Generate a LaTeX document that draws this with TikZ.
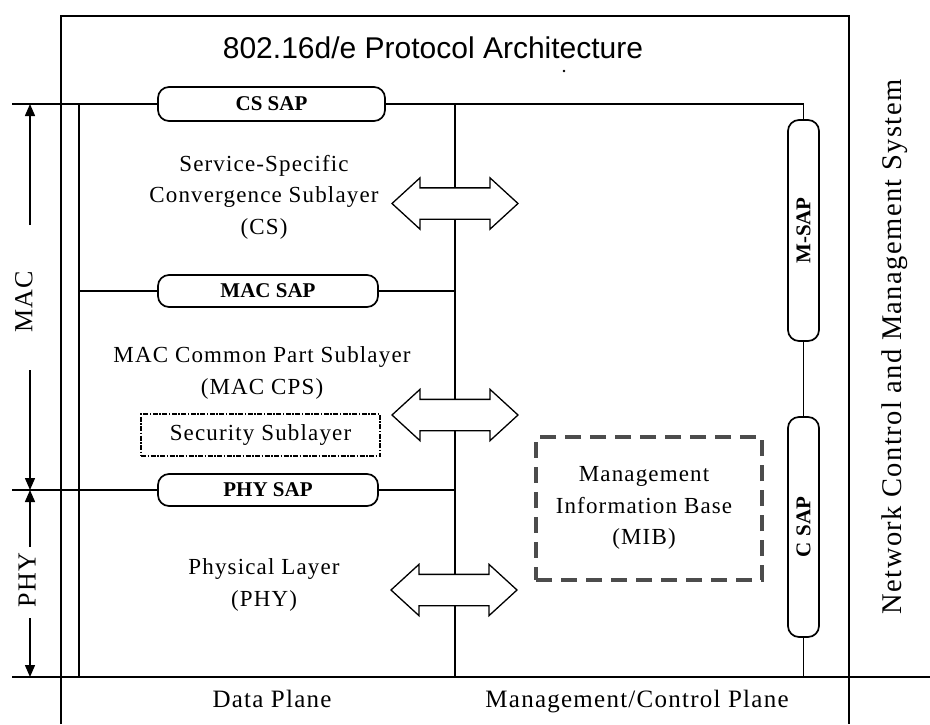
\documentclass[tikz,border=0pt]{standalone}
\usepackage{fontspec}
\setmainfont{Liberation Serif}
\newfontfamily\titlefnt{Liberation Sans}
\newfontfamily\bodyfnt{Liberation Serif}[LetterSpace=5]
\usetikzlibrary{arrows.meta,shapes.arrows}

\tikzset{
  wire/.style={line width=1.7pt, draw=black},
  sappill/.style={draw, line width=1.7pt, fill=white, rounded corners=11pt,
    inner sep=0pt, font=\bfseries\fontsize{21}{24}\selectfont},
  hpill/.style={sappill},
  vpill/.style={sappill, rotate=90},
  layertext/.style={align=center, inner sep=0pt,
    font=\bodyfnt\fontsize{23}{31.5}\selectfont},
  planetext/.style={anchor=base, inner sep=0pt,
    font=\bodyfnt\fontsize{25}{30}\selectfont},
  dimtext/.style={rotate=90, inner sep=0pt,
    font=\bodyfnt\fontsize{26}{30}\selectfont},
  sapflow/.style={double arrow, draw, fill=white, line width=1.3pt,
    inner xsep=0pt, inner ysep=15pt, minimum height=126pt,
    double arrow head extend=10pt, double arrow tip angle=85},
  dimarrow/.style={line width=1.5pt, -{Triangle[width=10pt,length=12pt]}},
  secbox/.style={draw, line width=2.3pt,
    dash pattern=on 5pt off 1.5pt on 1.5pt off 1.5pt},
  mibbox/.style={draw=black!70, line width=3.2pt,
    dash pattern=on 16pt off 9pt}
}

\begin{document}
\begin{tikzpicture}[x=1pt, y=-1pt]
  \useasboundingbox (0,0) rectangle (930,724);

  % outer frame and the base line of the planes
  \coordinate (frameBL) at (61,724);
  \coordinate (frameTL) at (61,16);
  \coordinate (frameTR) at (849,16);
  \coordinate (frameBR) at (849,724);
  \coordinate (baseL)   at (12,677);
  \coordinate (baseR)   at (930,677);
  \draw[wire] (frameBL) -- (frameTL) -- (frameTR) -- (frameBR);
  \draw[wire] (baseL) -- (baseR);

  % title
  \node[anchor=base, inner sep=0pt, font=\titlefnt\fontsize{30}{36}\selectfont]
    (title) at (433,58) {802.16d/e Protocol Architecture};
  \fill (564,71) circle (1.3pt);

  % service access points
  \node[hpill, minimum width=227pt, minimum height=34pt] (cssap)  at (271.5,104) {CS SAP};
  \node[hpill, minimum width=220pt, minimum height=32pt] (macsap) at (268,291) {MAC SAP};
  \node[hpill, minimum width=220pt, minimum height=32pt] (physap) at (268,490) {PHY SAP};
  \node[vpill, minimum width=221pt, minimum height=31pt] (msap)   at (803.5,230.5) {M-SAP};
  \node[vpill, minimum width=220pt, minimum height=31pt] (csap)   at (803.5,527) {C SAP};

  % data plane rails
  \coordinate (railTop)  at (79,104);
  \coordinate (railBot)  at (79,677);
  \coordinate (divTop)   at (455,104);
  \coordinate (divBot)   at (455,677);
  \coordinate (csL)      at (12,104);
  \coordinate (csCorner) at (803.5,104);
  \coordinate (macL)     at (79,291);
  \coordinate (macR)     at (455,291);
  \coordinate (phyL)     at (12,490);
  \coordinate (phyR)     at (455,490);
  \coordinate (mgmtBot)  at (803.5,677);

  \draw[wire] (railTop) -- (railBot);
  \draw[wire] (divTop) -- (divBot);
  \draw[wire] (csL) -- (cssap.west);
  \draw[wire] (cssap.east) -- (csCorner) -- (msap.east);
  \draw[wire] (macL) -- (macsap.west);
  \draw[wire] (macsap.east) -- (macR);
  \draw[wire] (phyL) -- (physap.west);
  \draw[wire] (physap.east) -- (phyR);
  \draw[wire] (msap.west) -- (csap.east);
  \draw[wire] (csap.west) -- (mgmtBot);

  % exchanges between the data plane and the management plane
  \node[sapflow] (csflow)  at (455,203.5) {};
  \node[sapflow] (cpsflow) at (455,415) {};
  \node[sapflow] (phyflow) at (454,590) {};

  % layer labels
  \node[layertext] (cslayer) at (264,197)
    {Service-Specific\\Convergence Sublayer\\(CS)};
  \node[layertext] (cpslayer) at (262,373)
    {MAC Common Part Sublayer\\(MAC CPS)};
  \node[secbox, minimum width=239pt, minimum height=42pt, inner sep=0pt]
    (sec) at (260.5,435) {};
  \node[layertext] (seclabel) at (sec.center) {Security Sublayer};
  \node[layertext] (phylayer) at (264,585) {Physical Layer\\(PHY)};

  % management information base
  \node[mibbox, minimum width=226pt, minimum height=143pt, inner sep=0pt]
    (mib) at (649,508.5) {};
  \node[layertext] (miblabel) at (644,508)
    {Management\\Information Base\\(MIB)};

  % plane names
  \node[planetext] (dataplane) at (272,707) {Data Plane};
  \node[planetext] (mgmtplane) at (637,707) {Management/Control Plane};
  \node[rotate=90, inner sep=0pt, font=\bodyfnt\fontsize{28.5}{32}\selectfont]
    (nms) at (895,347) {Network Control and Management System};

  % extent of the MAC and PHY layers
  \node[dimtext] (maclbl) at (24,302) {MAC};
  \node[dimtext] (phylbl) at (27,580) {PHY};
  \coordinate (macUpFrom)   at (30,225);
  \coordinate (macUpTo)     at (30,104);
  \coordinate (macDownFrom) at (30,370);
  \coordinate (macDownTo)   at (30,490);
  \coordinate (phyUpFrom)   at (30,547);
  \coordinate (phyUpTo)     at (30,490);
  \coordinate (phyDownFrom) at (30,618);
  \coordinate (phyDownTo)   at (30,677);
  \draw[dimarrow] (macUpFrom) -- (macUpTo);
  \draw[dimarrow] (macDownFrom) -- (macDownTo);
  \draw[dimarrow] (phyUpFrom) -- (phyUpTo);
  \draw[dimarrow] (phyDownFrom) -- (phyDownTo);
\end{tikzpicture}
\end{document}
